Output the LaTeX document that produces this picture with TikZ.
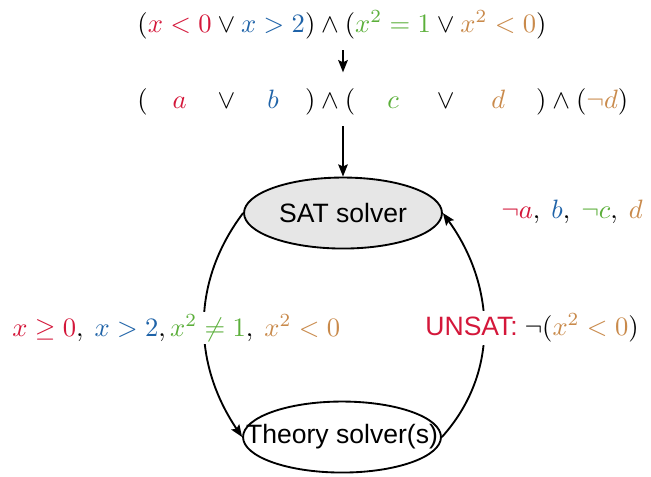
\documentclass[tikz,border=0pt]{standalone}
\usepackage{fontspec}
\setmainfont{Liberation Serif}
\setsansfont{Liberation Sans}
\usepackage{calc}
\usetikzlibrary{arrows.meta,positioning,shapes.geometric}
\definecolor{litred}{HTML}{D4173A}
\definecolor{litblue}{HTML}{1F63A8}
\definecolor{litgreen}{HTML}{5BAF3A}
\definecolor{litorange}{HTML}{C98A4B}
\definecolor{solvergray}{HTML}{E6E6E6}
% pad a boolean variable to the width of the atom it stands for
\newcommand{\slotto}[2]{\makebox[\widthof{#1}]{#2}}
\tikzset{
  mathrow/.style={inner sep=1pt},
  solver/.style={ellipse,draw,line width=0.7pt,inner sep=0pt,font=\sffamily,minimum width=2.62cm,minimum height=0.94cm},
  lbl/.style={inner sep=1pt,fill=white},
  arr/.style={-{Stealth[length=4.6pt,width=3.6pt,inset=0.8pt]},line width=0.7pt}
}

\begin{document}
\begin{tikzpicture}[x=1cm,y=1cm]
\path[use as bounding box] (0,0) rectangle (8.617,6.301);
\node[mathrow] (formula) at (4.527,5.969) {$({\color{litred}x<0}\vee{\color{litblue}x>2})\wedge({\color{litgreen}x^2=1}\vee{\color{litorange}x^2<0})$};
\node[mathrow,anchor=west] (bool) at ([yshift=-1.019cm]formula.west) {$(\slotto{$x<0$}{$\color{litred}a$}\vee\slotto{$x>2$}{$\color{litblue}b$})\wedge(\slotto{$x^2=1$}{$\color{litgreen}c$}\vee\slotto{$x^2<0$}{$\color{litorange}d$})\wedge(\textcolor{litorange}{\neg d})$};
\node[solver,fill=solvergray] (sat) at (4.540,3.481) {SAT solver};
\node[solver] (theory) at (4.527,0.516) {\makebox[0pt]{Theory solver(s)}};
\draw[arr] (sat.west) to[out=233,in=124] (theory.west);
\draw[arr] (theory.east) to[out=48,in=-54] (sat.east);
\node[lbl] (assign) at (7.571,3.494) {${\color{litred}\neg a},\ {\color{litblue}b},\ {\color{litgreen}\neg c},\ {\color{litorange}d}$};
\node[lbl,anchor=west] (query) at (0.12,1.959) {${\color{litred}x\geq0},\ {\color{litblue}x>2},{\color{litgreen}x^2\neq1},\ {\color{litorange}x^2<0}$};
\node[lbl] (unsat) at (7.042,1.959) {\textcolor{litred}{\sffamily UNSAT:} $\neg({\color{litorange}x^2<0})$};
\draw[arr,shorten <=3pt,shorten >=5pt] (formula.south -| sat.north) -- (bool.north -| sat.north);
\draw[arr,shorten <=3pt] (bool.south -| sat.north) -- (sat.north);
\end{tikzpicture}
\end{document}
